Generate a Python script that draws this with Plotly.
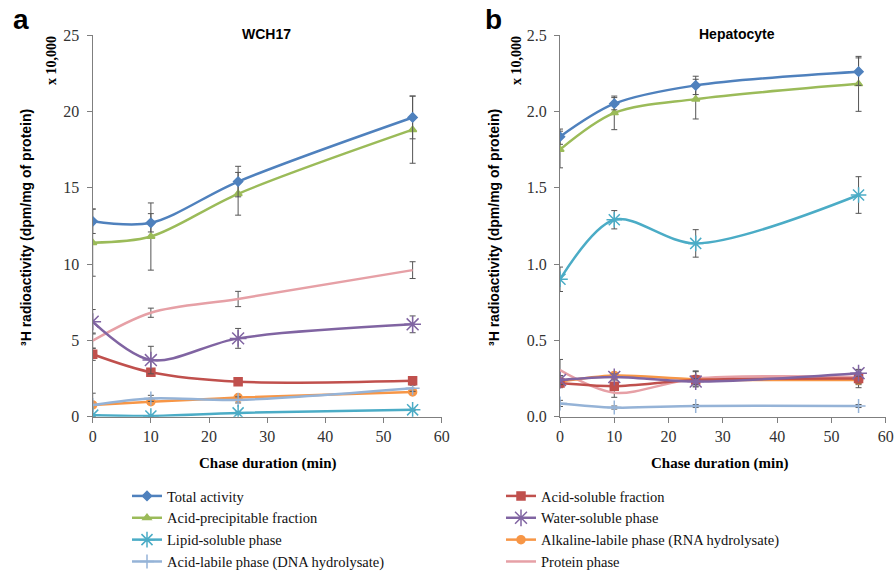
import plotly.graph_objects as go

# ---------------- data ----------------
chase_min = [0, 10, 25, 55]

series_names = [
    "Total activity", "Acid-precipitable fraction", "Lipid-soluble phase",
    "Acid-labile phase (DNA hydrolysate)", "Acid-soluble fraction",
    "Water-soluble phase", "Alkaline-labile phase (RNA hydrolysate)", "Protein phase",
]

# Panel a: WCH17 (x 10,000 dpm/mg of protein)
wch_total = [12.8, 12.7, 15.4, 19.6]
wch_precip = [11.4, 11.8, 14.6, 18.8]
wch_lipid = [0.10, 0.05, 0.25, 0.45]
wch_acid_labile = [0.77, 1.20, 1.10, 1.86]
wch_acid_soluble = [4.09, 2.91, 2.29, 2.36]
wch_water = [6.22, 3.71, 5.13, 6.05]
wch_alkaline = [0.77, 0.98, 1.25, 1.62]
wch_protein = [4.98, 6.81, 7.71, 9.60]

wch_total_err = [0.8, 0.6, 1.0, 1.4]
wch_precip_err = [2.2, 2.2, 1.4, 2.2]
wch_lipid_err = [0.05, 0.05, 0.05, 0.05]
wch_acid_labile_err = [0.77, 0.2, 0.2, 0.2]
wch_acid_soluble_err = [0.4, 0.2, 0.1, 0.1]
wch_water_err = [0.8, 0.9, 0.65, 0.55]
wch_alkaline_err = [0.1, 0.1, 0.1, 0.1]
wch_protein_err = [0.5, 0.3, 0.5, 0.55]

# Panel b: Hepatocyte
hep_total = [1.834, 2.05, 2.17, 2.26]
hep_precip = [1.75, 1.99, 2.08, 2.18]
hep_lipid = [0.90, 1.29, 1.135, 1.452]
hep_acid_labile = [0.087, 0.06, 0.07, 0.07]
hep_acid_soluble = [0.22, 0.20, 0.24, 0.25]
hep_water = [0.24, 0.26, 0.23, 0.285]
hep_alkaline = [0.23, 0.27, 0.245, 0.24]
hep_protein = [0.305, 0.157, 0.25, 0.26]

hep_total_err = [0.05, 0.04, 0.06, 0.09]
hep_precip_err = [0.12, 0.11, 0.13, 0.18]
hep_lipid_err = [0.08, 0.06, 0.09, 0.12]
hep_acid_labile_err = [0.02, 0.01, 0.01, 0.01]
hep_acid_soluble_err = [0.03, 0.02, 0.03, 0.03]
hep_water_err = [0.03, 0.02, 0.02, 0.02]
hep_alkaline_err = [0.03, 0.02, 0.05, 0.05]
hep_protein_err = [0.07, 0.03, 0.05, 0.05]

x_ticks = [0, 10, 20, 30, 40, 50, 60]

# ---------------- styles ----------------
colors = ["#4F81BD", "#9BBB59", "#4BACC6", "#95B3D7",
          "#C0504D", "#8064A2", "#F79646", "#E6A0A6"]
symbols = ["diamond", "triangle-up", "asterisk-open", "cross-thin-open",
           "square", "asterisk-open", "circle", None]
msizes = [7, 7, 13, 10, 8, 14, 8, 0]

wch_vals = [wch_total, wch_precip, wch_lipid, wch_acid_labile,
            wch_acid_soluble, wch_water, wch_alkaline, wch_protein]
wch_errs = [wch_total_err, wch_precip_err, wch_lipid_err, wch_acid_labile_err,
            wch_acid_soluble_err, wch_water_err, wch_alkaline_err, wch_protein_err]
hep_vals = [hep_total, hep_precip, hep_lipid, hep_acid_labile,
            hep_acid_soluble, hep_water, hep_alkaline, hep_protein]
hep_errs = [hep_total_err, hep_precip_err, hep_lipid_err, hep_acid_labile_err,
            hep_acid_soluble_err, hep_water_err, hep_alkaline_err, hep_protein_err]

order = [7, 6, 3, 2, 4, 5, 1, 0]

fig = go.Figure()


def add_series(i, xs, ys, errs, xa, ya, showleg):
    marker = dict(color=colors[i], size=msizes[i],
                  line=dict(color=colors[i], width=1.5))
    if symbols[i] is not None:
        marker["symbol"] = symbols[i]
    mode = "lines+markers" if symbols[i] is not None else "lines"
    fig.add_trace(go.Scatter(
        x=xs, y=ys, name=series_names[i], mode=mode,
        line=dict(color=colors[i], width=2.5, shape="spline", smoothing=0.9),
        marker=marker,
        error_y=dict(type="data", array=errs, visible=True,
                     color="#555555", thickness=1, width=3),
        xaxis=xa, yaxis=ya, showlegend=showleg,
        legend="legend" if i < 4 else "legend2",
        legendgroup="g%d" % i,
        legendrank=i + 1,
    ))


for i in order:
    add_series(i, chase_min, wch_vals[i], wch_errs[i], "x", "y", True)
for i in order:
    add_series(i, chase_min, hep_vals[i], hep_errs[i], "x2", "y2", False)

W, H = 895, 572


def px_x(p):
    return p / W


def px_y(p):
    return 1 - p / H


tick_font = dict(family="Liberation Serif", size=16, color="#333333")
axis_common = dict(showline=True, linecolor="#7F7F7F", linewidth=1.3,
                   ticks="outside", ticklen=5, tickcolor="#7F7F7F",
                   showgrid=False, zeroline=False, tickfont=tick_font,
                   automargin=False)

y0_px, y1_px = 416.7, 35.0

legend_font = dict(family="Liberation Serif", size=14.5, color="#111111")

fig.update_layout(
    width=W, height=H,
    margin=dict(l=0, r=0, t=0, b=0, autoexpand=False),
    paper_bgcolor="white", plot_bgcolor="white",
    xaxis=dict(domain=[px_x(92.7), px_x(441.7)], range=[0, 60],
               tickvals=x_ticks, anchor="y", **axis_common),
    yaxis=dict(domain=[px_y(y0_px), px_y(y1_px)], range=[0, 25],
               tickvals=[0, 5, 10, 15, 20, 25], anchor="x",
               ticklabelstandoff=4, **axis_common),
    xaxis2=dict(domain=[px_x(560), px_x(885.7)], range=[0, 60],
                tickvals=x_ticks, anchor="y2", **axis_common),
    yaxis2=dict(domain=[px_y(y0_px), px_y(y1_px)], range=[0, 2.5],
                tickvals=[0, 0.5, 1.0, 1.5, 2.0, 2.5], tickformat=".1f",
                anchor="x2", ticklabelstandoff=4, **axis_common),
    legend=dict(x=px_x(127), y=px_y(480), xanchor="left", yanchor="top",
                font=legend_font, bgcolor="rgba(0,0,0,0)",
                itemwidth=30, tracegroupgap=0),
    legend2=dict(x=px_x(501), y=px_y(480), xanchor="left", yanchor="top",
                 font=legend_font, bgcolor="rgba(0,0,0,0)",
                 itemwidth=30, tracegroupgap=0),
)

ann = []
ann.append(dict(text="<b>a</b>", x=px_x(21), y=px_y(19),
                font=dict(family="Liberation Sans", size=28, color="black")))
ann.append(dict(text="<b>b</b>", x=px_x(493), y=px_y(19),
                font=dict(family="Liberation Sans", size=28, color="black")))
ann.append(dict(text="<b>WCH17</b>", x=px_x(266), y=px_y(34),
                font=dict(family="Liberation Sans", size=14, color="black")))
ann.append(dict(text="<b>Hepatocyte</b>", x=px_x(737), y=px_y(34),
                font=dict(family="Liberation Sans", size=14, color="black")))
for xc in (26, 494):
    ann.append(dict(text="<b>³H radioactivity (dpm/mg of protein)</b>",
                    x=px_x(xc), y=px_y(228), textangle=-90,
                    font=dict(family="Liberation Sans", size=14, color="black")))
for xc in (51, 516):
    ann.append(dict(text="<b>x 10,000</b>", x=px_x(xc), y=px_y(61),
                    textangle=-90,
                    font=dict(family="Liberation Serif", size=14, color="black")))
for xc in (268, 720):
    ann.append(dict(text="<b>Chase duration (min)</b>", x=px_x(xc), y=px_y(463),
                    font=dict(family="Liberation Serif", size=15, color="black")))
for a in ann:
    a.update(xref="paper", yref="paper", showarrow=False,
             xanchor="center", yanchor="middle")
fig.update_layout(annotations=ann)

fig.write_html(
    "out.html",
    config={"displayModeBar": False},
    post_script="document.body.style.margin='0';document.body.style.padding='0';",
)
